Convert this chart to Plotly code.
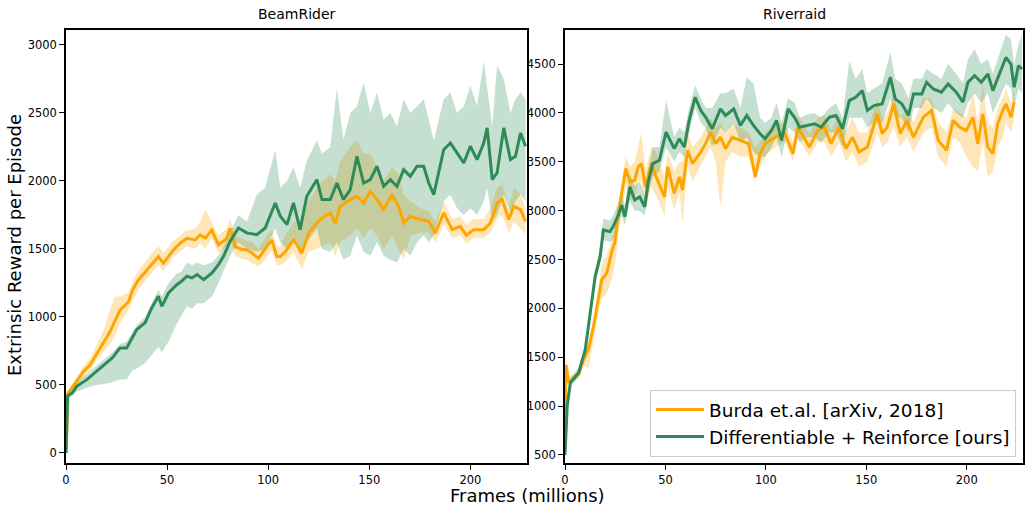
import plotly.graph_objects as go

# ---------------- DATA ----------------
# BeamRider - Burda et.al.
br_burda_x = [0, 1, 5, 8.6, 12, 15.2, 18.5, 21.8, 24, 26.7, 30.9, 33, 35.8, 40, 43, 45.7, 48.2, 53.1, 56.4, 59.8,
              63.9, 66.3, 69, 72.1, 75.4, 79.5, 81.2, 83.7, 86.5, 89.4, 92, 95.2, 98.5, 101.8, 104.3, 106, 108.5,
              112.5, 116.7, 120, 124.1, 126.6, 130.7, 133.2, 135.6, 140.6, 143.9, 147.2, 150.5, 153.8, 157.1,
              161.2, 164.5, 167, 170.3, 175.2, 179.4, 182.7, 186.8, 191, 195, 198, 201.6, 206.6, 209.9, 213.2,
              215.7, 219, 221.5, 224.8, 227.3]
br_burda_y = [0, 440, 520, 598, 650, 733, 810, 892, 960, 1051, 1112, 1200, 1272, 1345, 1400, 1443, 1395, 1493, 1542,
              1578, 1566, 1603, 1580, 1640, 1529, 1578, 1652, 1517, 1500, 1493, 1470, 1431, 1500, 1566, 1443, 1444,
              1480, 1569, 1471, 1618, 1691, 1728, 1765, 1691, 1813, 1863, 1887, 1838, 1924, 1863, 1789, 1899, 1813,
              1691, 1740, 1716, 1703, 1618, 1765, 1642, 1666, 1600, 1642, 1642, 1691, 1838, 1863, 1716, 1813, 1789,
              1703]
br_burda_lo = [0, 420, 490, 560, 610, 680, 740, 800, 850, 950, 1050, 1120, 1200, 1280, 1330, 1380, 1340, 1440, 1480,
               1520, 1500, 1540, 1500, 1580, 1470, 1520, 1580, 1450, 1430, 1420, 1400, 1370, 1420, 1490, 1380, 1380,
               1400, 1480, 1350, 1480, 1500, 1520, 1550, 1450, 1550, 1600, 1650, 1580, 1650, 1600, 1500, 1600, 1500,
               1420, 1600, 1620, 1620, 1550, 1680, 1580, 1600, 1540, 1580, 1580, 1620, 1720, 1750, 1620, 1700, 1650,
               1600]
br_burda_hi = [0, 460, 550, 640, 700, 800, 900, 1050, 1150, 1150, 1180, 1260, 1340, 1420, 1480, 1520, 1470, 1560, 1600,
               1640, 1650, 1700, 1790, 1700, 1600, 1650, 1720, 1600, 1580, 1560, 1550, 1500, 1580, 1640, 1520, 1520,
               1600, 1700, 1700, 1850, 1950, 2000, 2050, 2000, 2150, 2250, 2300, 2200, 2200, 2100, 2000, 2100, 2050,
               1900, 1850, 1800, 1780, 1700, 1850, 1720, 1740, 1680, 1720, 1720, 1800, 1950, 1980, 1800, 1950, 1900,
               1800]

# BeamRider - Differentiable + Reinforce
br_ours_x = [0, 0.8, 3, 5.3, 10.3, 15.2, 20.1, 23, 26.7, 30, 32.5, 35, 39.1, 42.4, 45.7, 47.4, 50.7, 54.8, 57, 59.8,
             62.3, 64.8, 68.1, 72.2, 75.4, 77.9, 81.2, 85.3, 89.4, 94.4, 98.5, 103.5, 106, 109.3, 112.5, 115.8, 119.1,
             124.1, 126.6, 130.7, 134, 137.2, 140.6, 143.9, 147.2, 150.5, 153.8, 157.1, 160.4, 163.7, 167, 170.3,
             173.6, 176.9, 179.4, 181.9, 186.8, 190.1, 193.4, 196.7, 200, 203.3, 206.6, 208.3, 210.8, 213.2, 216.5,
             219.8, 222.3, 224.8, 227.3]
br_ours_y = [0, 420, 440, 490, 539, 600, 662, 700, 772, 772, 840, 907, 956, 1066, 1152, 1078, 1176, 1237, 1260, 1299,
             1287, 1311, 1274, 1324, 1385, 1446, 1556, 1654, 1618, 1605, 1654, 1838, 1740, 1679, 1838, 1642, 1887,
             2010, 1863, 1863, 1985, 1863, 1936, 2181, 1985, 2010, 2108, 1961, 2010, 1961, 2083, 2034, 2108, 2108,
             1985, 1899, 2230, 2279, 2206, 2132, 2255, 2157, 2279, 2390, 2010, 2059, 2390, 2157, 2181, 2352, 2255]
br_ours_lo = [0, 400, 420, 450, 480, 500, 510, 520, 540, 540, 600, 620, 660, 720, 780, 740, 820, 950, 1000, 1078,
              1060, 1100, 1100, 1150, 1250, 1330, 1450, 1550, 1500, 1480, 1500, 1650, 1550, 1500, 1600, 1450, 1550,
              1650, 1500, 1480, 1550, 1420, 1450, 1600, 1480, 1450, 1550, 1450, 1420, 1400, 1500, 1450, 1550, 1600,
              1550, 1600, 1850, 1900, 1800, 1750, 1800, 1750, 1850, 1950, 1700, 1750, 1900, 1780, 1850, 1900, 1850]
br_ours_hi = [0, 440, 470, 520, 580, 640, 700, 740, 800, 820, 880, 940, 1000, 1100, 1200, 1150, 1250, 1320, 1330, 1400,
              1380, 1400, 1380, 1400, 1450, 1520, 1620, 1750, 1700, 1900, 1950, 2230, 1950, 2000, 2100, 1950, 2150,
              2300, 2200, 2250, 2680, 2300, 2500, 2550, 2720, 2500, 2650, 2450, 2500, 2400, 2600, 2500, 2550, 2600,
              2450, 2300, 2600, 2650, 2500, 2550, 2700, 2550, 2880, 2700, 2400, 2850, 2750, 2500, 2600, 2650, 2600]

# Riverraid - Burda et.al.
rr_burda_x = [0, 0.5, 1.9, 6.8, 9.3, 11.7, 14.2, 16.7, 18.3, 20.8, 23.3, 24.9, 26.5, 28.2, 30.3, 32.3, 34.7, 36.4,
              38, 40.1, 42.9, 45.4, 49.5, 51.1, 54.4, 56.9, 58.5, 61, 63.5, 67.6, 70, 72.5, 75, 77.4, 79.9, 83.2,
              87.3, 91.4, 94.7, 97.1, 99.6, 104.5, 109.5, 113.5, 116, 121.7, 125.8, 129.1, 132.4, 136.5, 139.8,
              143.1, 146.4, 150.5, 155.4, 157.9, 160.4, 163.6, 166.9, 170.2, 173.5, 178.4, 182.5, 185.8, 189.9,
              193.2, 196.5, 199.8, 203.1, 205.5, 208, 210.5, 213, 215.4, 217.9, 219.5, 222, 223.6]
rr_burda_y = [560, 1420, 1240, 1325, 1478, 1580, 1817, 2089, 2293, 2361, 2581, 2683, 2955, 3176, 3431, 3294, 3311,
              3447, 3481, 3243, 3481, 3345, 3141, 3447, 3176, 3345, 3209, 3617, 3481, 3600, 3685, 3803, 3685, 3752,
              3634, 3752, 3719, 3685, 3345, 3583, 3685, 3752, 3787, 3583, 3854, 3650, 3821, 3854, 3685, 3854, 3634,
              3752, 3600, 3650, 3990, 3787, 3854, 4092, 3787, 3923, 3752, 3956, 4024, 3719, 3617, 3923, 3854, 3821,
              3956, 3685, 3990, 3650, 3583, 3888, 4024, 4092, 3956, 4109]
rr_burda_lo = [520, 1300, 1200, 1290, 1420, 1380, 1650, 1950, 2100, 2150, 2300, 2450, 2750, 3000, 3250, 3100, 3150,
               3300, 3300, 3000, 3250, 3150, 2950, 3250, 3000, 3200, 2870, 3450, 3300, 3450, 3550, 3650, 3500, 3039,
               3500, 3600, 3550, 3550, 3300, 3450, 3550, 3650, 3700, 3500, 3750, 3550, 3700, 3700, 3550, 3700, 3500,
               3600, 3450, 3500, 3800, 3650, 3700, 3850, 3650, 3750, 3600, 3800, 3850, 3550, 3450, 3750, 3700, 3550,
               3450, 3400, 3700, 3345, 3400, 3650, 3750, 3900, 3800, 3950]
rr_burda_hi = [600, 1520, 1300, 1360, 1530, 1620, 1880, 2200, 2450, 2550, 2700, 2800, 3050, 3300, 3550, 3450, 3500,
               3650, 3800, 3400, 3650, 3600, 3350, 3600, 3400, 3500, 3500, 3800, 3650, 3750, 3850, 3950, 3850, 3900,
               3800, 3900, 3850, 3800, 3650, 3700, 3800, 3880, 3900, 3700, 3980, 3780, 3950, 3980, 3820, 3980, 3800,
               3950, 3800, 3800, 4150, 3950, 4000, 4200, 3950, 4050, 3900, 4150, 4150, 3900, 3800, 4050, 4000, 3950,
               4200, 3900, 4300, 3900, 3850, 4050, 4150, 4250, 4100, 4250]

# Riverraid - Differentiable + Reinforce
rr_ours_x = [0, 1.1, 2.7, 6.8, 10.1, 12.6, 15, 17.5, 19.1, 22.4, 24, 26.5, 28.2, 29.8, 32.3, 34.7, 37.2, 39.7, 41.3,
             43.7, 47, 50.3, 54.4, 56.9, 59.4, 61.8, 64.8, 67.6, 70, 73.3, 77.4, 79.9, 84, 87.3, 90.5, 93.8, 97.1,
             99.6, 102.8, 105.3, 107.8, 111.1, 114.4, 116.8, 120.1, 124.2, 127.5, 131.6, 134.9, 138.2, 141.5, 144.7,
             148, 150.5, 153.8, 157.9, 162, 164.4, 167.7, 171, 173.5, 177.6, 180, 183.3, 187.4, 190.7, 194.8, 198.1,
             200.6, 203.9, 207.2, 210.5, 213, 216.2, 219.5, 222, 223.6, 225.7, 227.5]
rr_ours_y = [500, 1002, 1240, 1342, 1580, 1953, 2326, 2530, 2802, 2785, 2836, 2955, 3057, 2938, 3243, 3108, 3141, 3039,
             3278, 3481, 3515, 3803, 3634, 3736, 3651, 3923, 4160, 4024, 3956, 3838, 4041, 3973, 4041, 3872, 3973,
             3872, 3787, 3736, 3821, 3923, 3719, 4041, 3950, 3854, 3872, 3889, 3854, 3956, 3973, 3838, 4126, 4160,
             4228, 4024, 4075, 4092, 4364, 4143, 4092, 3973, 4194, 4194, 4313, 4245, 4211, 4296, 4211, 4109, 4313,
             4381, 4313, 4398, 4228, 4398, 4567, 4500, 4262, 4483, 4450]
rr_ours_lo = [480, 900, 1200, 1300, 1530, 1880, 2250, 2450, 2700, 2680, 2700, 2850, 2950, 2850, 3100, 3000, 3000, 2950,
              3150, 3350, 3400, 3650, 3500, 3600, 3550, 3800, 4050, 3900, 3850, 3650, 3850, 3800, 3900, 3700, 3750,
              3600, 3550, 3550, 3650, 3750, 3550, 3850, 3800, 3700, 3750, 3750, 3700, 3800, 3800, 3650, 3950, 3950,
              3950, 3850, 3900, 3900, 4150, 3950, 3950, 3800, 4050, 4050, 4150, 4050, 4000, 4100, 4000, 3950, 4100,
              4200, 4100, 4200, 4000, 4150, 4300, 4250, 4050, 4250, 4200]
rr_ours_hi = [520, 1100, 1290, 1390, 1630, 2030, 2400, 2620, 2920, 2900, 2950, 3080, 3180, 3050, 3380, 3250, 3300,
              3150, 3400, 3650, 3650, 4126, 3750, 3850, 3800, 4050, 4280, 4150, 4050, 4050, 4200, 4200, 4250, 4050,
              4364, 4300, 3950, 3900, 3950, 4100, 3900, 4150, 4100, 3950, 3980, 4000, 3950, 4050, 4100, 3950, 4534,
              4350, 4450, 4200, 4250, 4300, 4620, 4350, 4300, 4150, 4350, 4350, 4450, 4400, 4350, 4500, 4400, 4300,
              4550, 4650, 4500, 4550, 4400, 4600, 4800, 4750, 4500, 4700, 4800]

panel_titles = ["BeamRider", "Riverraid"]
series_names = ["Burda et.al. [arXiv, 2018]", "Differentiable + Reinforce [ours]"]
x_ticks = [0, 50, 100, 150, 200]
br_y_ticks = [0, 500, 1000, 1500, 2000, 2500, 3000]
rr_y_ticks = [500, 1000, 1500, 2000, 2500, 3000, 3500, 4000, 4500]

# ---------------- STYLE ----------------
ORANGE = "#FFA500"
GREEN = "#2E8B57"
ORANGE_FILL = "rgba(255,165,0,0.28)"
GREEN_FILL = "rgba(46,139,87,0.28)"
FONT = "DejaVu Sans"

fig = go.Figure()


def add_band(x, lo, hi, color, xa, ya):
    fig.add_trace(go.Scatter(
        x=list(x) + list(x)[::-1], y=list(hi) + list(lo)[::-1],
        fill="toself", fillcolor=color, line=dict(width=0), mode="lines",
        hoverinfo="skip", showlegend=False, xaxis=xa, yaxis=ya))


def add_line(x, y, color, name, show, xa, ya):
    fig.add_trace(go.Scatter(
        x=x, y=y, mode="lines", line=dict(color=color, width=3),
        name=name, showlegend=show, legendgroup=name, xaxis=xa, yaxis=ya))


# BeamRider
add_band(br_burda_x, br_burda_lo, br_burda_hi, ORANGE_FILL, "x", "y")
add_band(br_ours_x, br_ours_lo, br_ours_hi, GREEN_FILL, "x", "y")
add_line(br_burda_x, br_burda_y, ORANGE, series_names[0], False, "x", "y")
add_line(br_ours_x, br_ours_y, GREEN, series_names[1], False, "x", "y")
# Riverraid
add_band(rr_burda_x, rr_burda_lo, rr_burda_hi, ORANGE_FILL, "x2", "y2")
add_band(rr_ours_x, rr_ours_lo, rr_ours_hi, GREEN_FILL, "x2", "y2")
add_line(rr_burda_x, rr_burda_y, ORANGE, series_names[0], True, "x2", "y2")
add_line(rr_ours_x, rr_ours_y, GREEN, series_names[1], True, "x2", "y2")

W, H = 1026, 506
ML, MR, MT, MB = 66, 3, 30, 43
pw = W - ML - MR
ph = H - MT - MB
d1 = [0, (527 - ML) / pw]
d2 = [(565 - ML) / pw, 1]

axis_common = dict(showline=True, linecolor="black", linewidth=1.5, mirror=True,
                   ticks="outside", ticklen=5, tickwidth=1.2, tickcolor="black",
                   showgrid=False, zeroline=False, automargin=False,
                   tickfont=dict(family=FONT, size=11.5, color="black"))

fig.update_layout(
    width=W, height=H,
    margin=dict(l=ML, r=MR, t=MT, b=MB, autoexpand=False),
    paper_bgcolor="white", plot_bgcolor="white",
    font=dict(family=FONT, color="black"),
    xaxis=dict(domain=d1, range=[0, 228], tickvals=x_ticks, anchor="y", **axis_common),
    yaxis=dict(domain=[0, 1], range=[-74, 3110], tickvals=br_y_ticks, anchor="x", **axis_common),
    xaxis2=dict(domain=d2, range=[0, 228], tickvals=x_ticks, anchor="y2", **axis_common),
    yaxis2=dict(domain=[0, 1], range=[418, 4848], tickvals=rr_y_ticks, anchor="x2", **axis_common),
    legend=dict(x=(1016 - ML) / pw, y=(463 - 457) / ph, xanchor="right", yanchor="bottom",
                bgcolor="rgba(255,255,255,0.85)", bordercolor="#cccccc", borderwidth=1,
                itemwidth=48,
                font=dict(family=FONT, size=18.5, color="black"), tracegroupgap=0),
    showlegend=True,
)


def px_x(px):
    return (px - ML) / pw


def px_y(py):
    return (H - MB - py) / ph


annotations = [
    dict(text=panel_titles[0], x=(d1[0] + d1[1]) / 2, y=px_y(14)),
    dict(text=panel_titles[1], x=(d2[0] + d2[1]) / 2, y=px_y(14)),
    dict(text="Extrinsic Reward per Episode", x=px_x(14), y=px_y(245), textangle=-90),
    dict(text="Frames (millions)", x=px_x(527), y=px_y(495)),
]
sizes = [14, 14, 18, 18]
for a, s in zip(annotations, sizes):
    a.update(xref="paper", yref="paper", showarrow=False, xanchor="center", yanchor="middle",
             font=dict(family=FONT, size=s, color="black"))
fig.update_layout(annotations=annotations)

fig.write_html("out.html", config={"displayModeBar": False},
               post_script="document.body.style.margin='0px';")
